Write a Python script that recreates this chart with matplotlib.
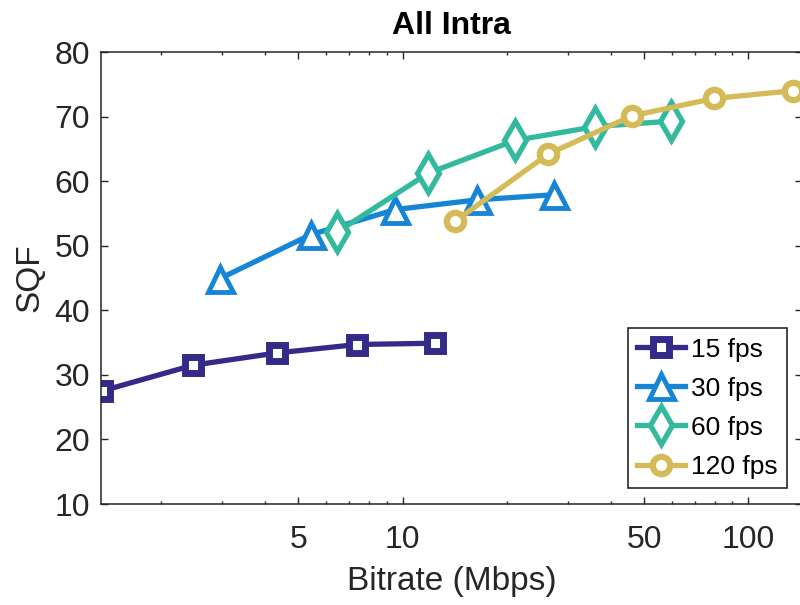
import matplotlib
matplotlib.use("Agg")
import matplotlib.pyplot as plt
from matplotlib.ticker import FixedLocator, FixedFormatter, NullFormatter

plt.rcParams['font.family'] = ['Liberation Sans', 'DejaVu Sans']

# Data
br_15 = [1.349, 2.48, 4.34, 7.39, 12.43]
sqf_15 = [27.5, 31.5, 33.4, 34.7, 34.9]
br_30 = [2.96, 5.42, 9.53, 16.4, 27.4]
sqf_30 = [44.9, 51.7, 55.6, 57.1, 57.9]
br_60 = [6.46, 11.88, 21.1, 36.1, 59.9]
sqf_60 = [52.1, 61.25, 66.3, 68.45, 69.3]
br_120 = [14.2, 26.4, 46.0, 79.5, 134.3]
sqf_120 = [53.8, 64.2, 70.1, 72.8, 74.0]
labels = ['15 fps', '30 fps', '60 fps', '120 fps']
xticks = [5, 10, 50, 100]
xtick_labels = ['5', '10', '50', '100']
xminor = [2, 3, 4, 6, 7, 8, 9, 20, 30, 40, 60, 70, 80, 90]
yticks = [10, 20, 30, 40, 50, 60, 70, 80]

colors = ['#352a87', '#1785d6', '#33b99d', '#d4bb58']
axc = '#262626'

fig = plt.figure(figsize=(8.0, 6.05), dpi=100)
ax = fig.add_axes([101/800, 1-504/605, (802-101)/800, (504-52)/605])

ax.plot(br_15, sqf_15, color=colors[0], lw=3.8, marker='s', ms=12, mew=5,
        mfc='white', mec=colors[0], label=labels[0], solid_joinstyle='round')
ax.plot(br_30, sqf_30, color=colors[1], lw=3.8, marker='^', ms=18, mew=3.5,
        mfc='white', mec=colors[1], label=labels[1], solid_joinstyle='round')
ax.plot(br_60, sqf_60, color=colors[2], lw=3.8, marker='d', ms=19, mew=3.8,
        mfc='white', mec=colors[2], label=labels[2], solid_joinstyle='round')
ax.plot(br_120, sqf_120, color=colors[3], lw=3.8, marker='o', ms=12.5, mew=4.5,
        mfc='white', mec=colors[3], label=labels[3], solid_joinstyle='round')

ax.set_xscale('log')
ax.set_xlim(1.342, 143)
ax.set_ylim(10, 80)
ax.xaxis.set_major_locator(FixedLocator(xticks))
ax.xaxis.set_major_formatter(FixedFormatter(xtick_labels))
ax.xaxis.set_minor_locator(FixedLocator(xminor))
ax.xaxis.set_minor_formatter(NullFormatter())
ax.set_yticks(yticks)

for s in ax.spines.values():
    s.set_color(axc)
    s.set_linewidth(1.1)
ax.tick_params(which='both', direction='in', top=True, right=True, colors=axc,
               labelcolor=axc, labelsize=23, width=1.0)
ax.tick_params(which='major', length=5)
ax.tick_params(which='minor', length=2.5)
ax.tick_params(axis='x', which='major', pad=15)
ax.tick_params(axis='y', which='major', pad=8)

ax.set_title('All Intra', fontsize=23, fontweight='bold', pad=13, color='black')
ax.set_xlabel('Bitrate (Mbps)', fontsize=24, color=axc, labelpad=8)
ax.set_ylabel('SQF', fontsize=24, color=axc, labelpad=6)

leg = ax.legend(loc='lower right', bbox_to_anchor=(787/800, 1-488/605),
                bbox_transform=fig.transFigure, borderaxespad=0, fontsize=19,
                fancybox=False, framealpha=1, edgecolor=axc, handlelength=1.8,
                handletextpad=0.25, labelspacing=0.57, borderpad=0.35)
leg.get_frame().set_linewidth(1.2)

fig.savefig('out.png', dpi=100)
